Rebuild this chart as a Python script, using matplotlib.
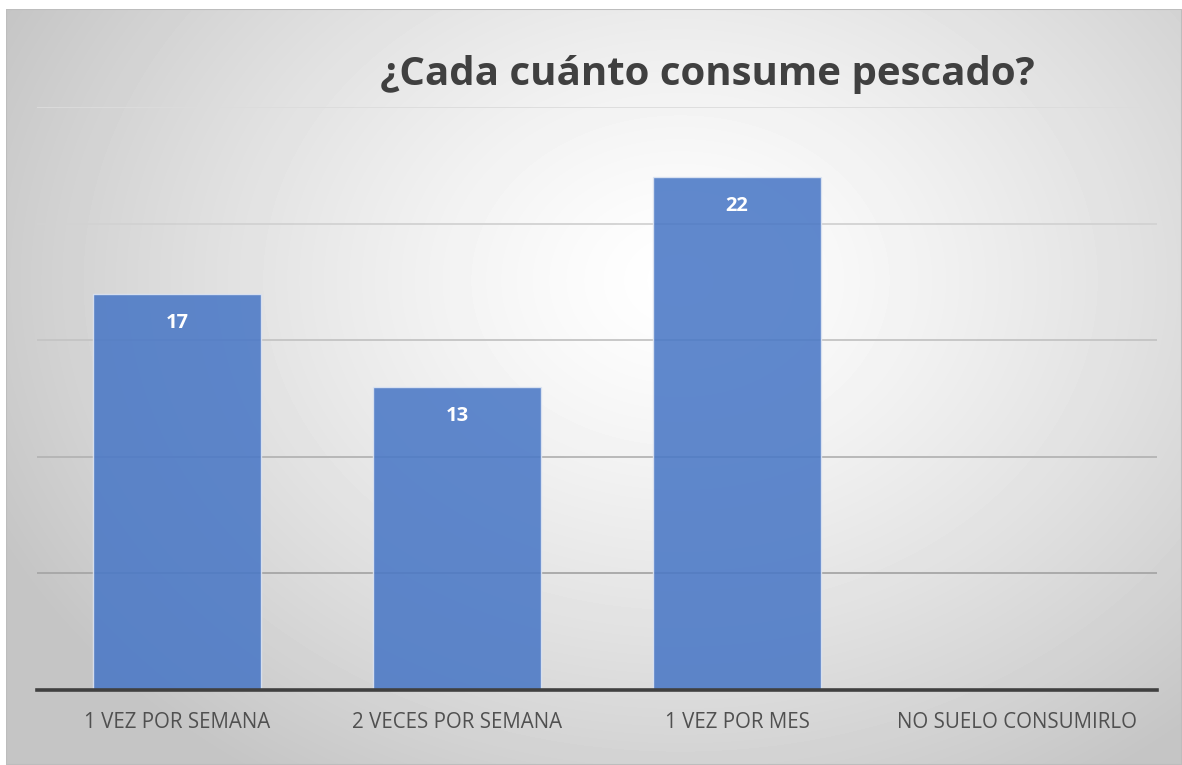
import numpy as np
import matplotlib
matplotlib.use("Agg")
import matplotlib.pyplot as plt
from matplotlib.patches import Rectangle

categories = ["1 VEZ POR SEMANA", "2 VECES POR SEMANA", "1 VEZ POR MES", "NO SUELO CONSUMIRLO"]
values = [17, 13, 22, 0]
grid_levels = [5, 10, 15, 20, 25]
title = "¿Cada cuánto consume pescado?"

W, H = 1182, 765
fig = plt.figure(figsize=(W / 100, H / 100), dpi=100)
fig.patch.set_facecolor("white")

# radial grey background of the chart area
bg = fig.add_axes([6 / W, 0, 1 - 6 / W, 1 - 9 / H], zorder=0)
yy, xx = np.mgrid[9:H:1.0, 6:W:1.0]
r = np.sqrt(((xx - 680) / 760) ** 2 + ((yy - 280) / 600) ** 2)
shade = 1 - 0.23 * np.clip(r, 0, 1) ** 1.3
bg.imshow(shade, cmap="gray", vmin=0, vmax=1, aspect="auto",
          extent=[0, 1, 0, 1], interpolation="bilinear")
bg.add_patch(Rectangle((0, 0), 1, 1, transform=bg.transAxes, fill=False,
                       edgecolor="#bdbdbd", lw=1.5))
bg.set_axis_off()

ax = fig.add_axes([37 / W, 1 - 690 / H, 1120 / W, 583 / H], zorder=1)
ax.patch.set_alpha(0)
x = np.arange(len(categories))
ax.set_xlim(-0.5, len(categories) - 0.5)
ax.set_ylim(0, 25)

grid_colors = ["#a6a6a6", "#b4b4b4", "#c4c4c4", "#d2d2d2", "#dcdcdc"]
for lvl, c in zip(grid_levels, grid_colors):
    ax.axhline(lvl, color=c, lw=1.3, zorder=1)

bars = ax.bar(x, values, width=0.6, color="#4a78c6", alpha=0.88,
              edgecolor="#dfe6f3", linewidth=1.0, zorder=2)
for b, v in zip(bars, values):
    if v > 0:
        ax.text(b.get_x() + b.get_width() / 2, v - 1.25, str(v), ha="center",
                va="center", color="white", fontsize=14.5, fontweight="bold",
                family="Open Sans", zorder=3)

ax.axhline(0, color="#404040", lw=2.6, zorder=4, clip_on=False)
for s in ax.spines.values():
    s.set_visible(False)
ax.set_yticks([])
ax.set_xticks(x)
ax.set_xticklabels(categories, fontsize=14.8, color="#505050", family="Open Sans")
ax.tick_params(axis="x", length=0, pad=16)

fig.text(707 / W, 1 - 75 / H, title, ha="center", va="center", fontsize=29,
         fontweight="bold", color="#404040", family="Open Sans")

fig.savefig("out.png", dpi=100)
